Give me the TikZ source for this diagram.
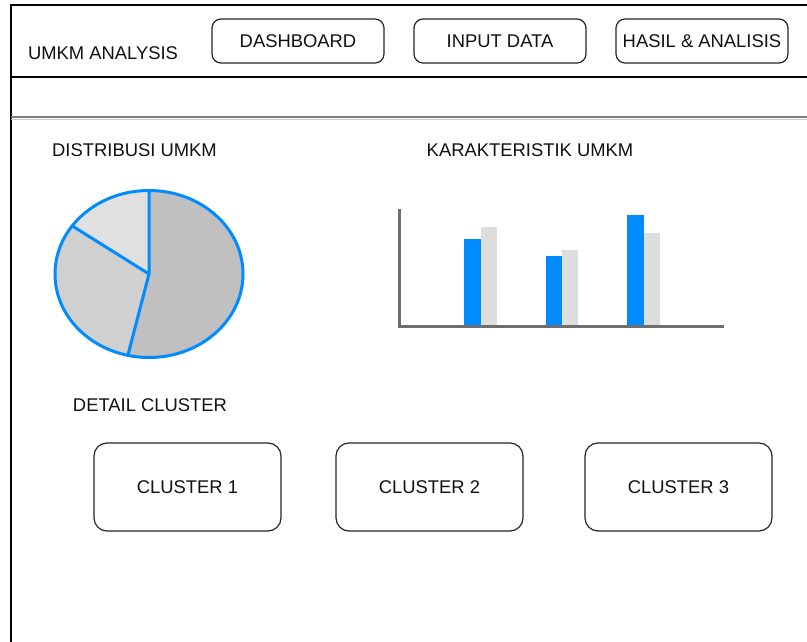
\documentclass[tikz,border=0pt]{standalone}
\usepackage{fontspec}
\setmainfont{Liberation Sans}
\usetikzlibrary{calc}
\definecolor{accent}{RGB}{0,140,255}
\definecolor{sliceA}{RGB}{192,192,192}
\definecolor{sliceB}{RGB}{208,208,208}
\definecolor{sliceC}{RGB}{224,224,224}
\definecolor{barlight}{RGB}{221,221,221}
\definecolor{axisgray}{RGB}{110,110,110}
\definecolor{inktext}{RGB}{17,17,17}
\begin{document}
\begin{tikzpicture}[x=1pt,y=1pt,
  font=\fontsize{18.4}{21}\selectfont,
  every node/.style={text=inktext},
  navbtn/.style={draw=black!85, line width=1.2pt, rounded corners=9pt,
    minimum width=172pt, minimum height=44pt, inner sep=0pt},
  clusterbox/.style={draw=black!85, line width=1.2pt, rounded corners=13pt,
    minimum width=187pt, minimum height=88pt, inner sep=0pt},
  caption/.style={inner sep=0pt},
  slice/.style={draw=accent, line width=3pt, line join=round}]
\useasboundingbox (0,0) rectangle (807,-642);
\fill[white] (0,0) rectangle (807,-642);

% page frame and header separators
\draw[line width=1.5pt] (11,-642) -- (11,-5) -- (807,-5);
\draw[line width=1.2pt] (11,-77) -- (807,-77);
\draw[line width=2.8pt, black!50] (11,-117) -- (807,-117);
\draw[line width=1pt, black!20] (11,-119.5) -- (807,-119.5);

% header
\node[caption] (brand) at (103,-53) {UMKM ANALYSIS};
\node[navbtn] (dash) at (298,-41) {DASHBOARD};
\node[navbtn] (input) at (500,-41) {INPUT DATA};
\node[navbtn] (hasil) at (702,-41) {HASIL \& ANALISIS};

% section titles
\node[caption] (tdist) at (134.5,-150) {DISTRIBUSI UMKM};
\node[caption] (tkar) at (530,-150) {KARAKTERISTIK UMKM};
\node[caption] (tdet) at (150,-405) {DETAIL CLUSTER};

% pie chart
\coordinate (pc) at (149,-274);
\fill[sliceA] (pc) -- ++(90:94pt and 83.5pt)
  arc[start angle=90, end angle=-103, x radius=94pt, y radius=83.5pt] -- cycle;
\fill[sliceB] (pc) -- ++(144.8:94pt and 83.5pt)
  arc[start angle=144.8, end angle=257, x radius=94pt, y radius=83.5pt] -- cycle;
\fill[sliceC] (pc) -- ++(90:94pt and 83.5pt)
  arc[start angle=90, end angle=144.8, x radius=94pt, y radius=83.5pt] -- cycle;
\draw[slice] (pc) ellipse[x radius=94pt, y radius=83.5pt];
\draw[slice] ($(pc)+(90:94pt and 83.5pt)$) -- (pc) -- ($(pc)+(144.8:94pt and 83.5pt)$);
\draw[slice] (pc) -- ($(pc)+(257:94pt and 83.5pt)$);

% bar chart
\fill[accent] (464,-325) rectangle (480.5,-238.5);
\fill[barlight] (480.5,-325) rectangle (496.5,-226.5);
\fill[accent] (545.5,-325) rectangle (562,-256);
\fill[barlight] (562,-325) rectangle (578,-250);
\fill[accent] (627,-325) rectangle (643.5,-214.5);
\fill[barlight] (643.5,-325) rectangle (660,-232.5);
\draw[axisgray, line width=3pt] (399,-209) -- (399,-326) -- (724,-326);

% cluster cards
\node[clusterbox] (c1) at (187.5,-487) {CLUSTER 1};
\node[clusterbox] (c2) at (429.5,-487) {CLUSTER 2};
\node[clusterbox] (c3) at (678.5,-487) {CLUSTER 3};
\end{tikzpicture}
\end{document}
